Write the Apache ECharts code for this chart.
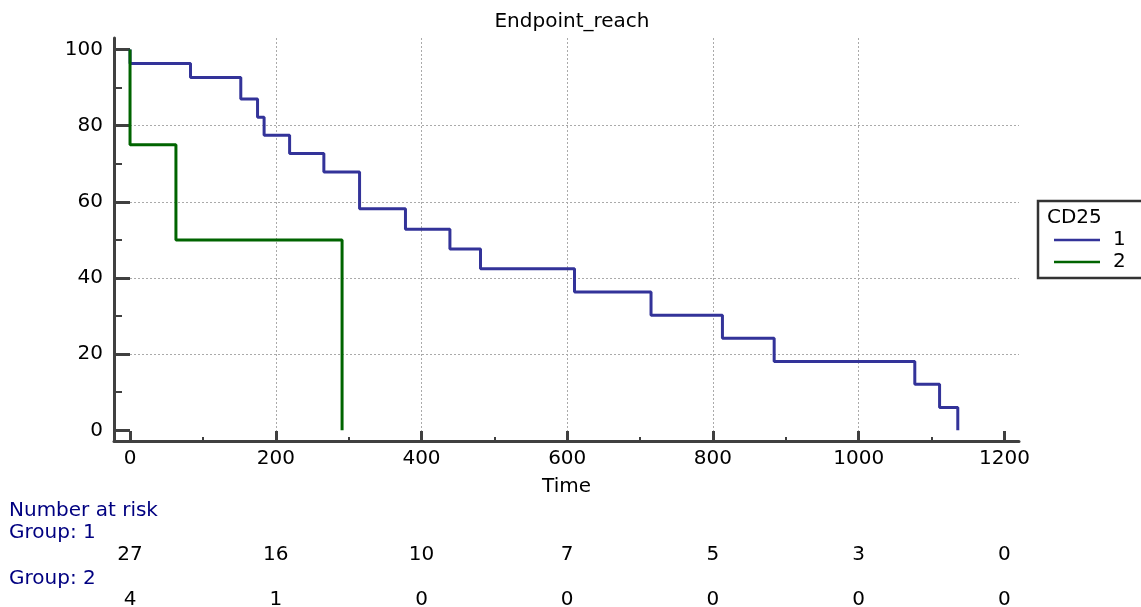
<!DOCTYPE html>
<html>
<head>
<meta charset="utf-8">
<script src="https://cdn.jsdelivr.net/npm/echarts@6/dist/echarts.min.js"></script>
<style>
  html, body { margin: 0; padding: 0; background: #fff; }
  #main { width: 1141px; height: 607px; }
</style>
</head>
<body>
<div id="main"></div>
<script>
var myChart = echarts.init(document.getElementById('main'));

// Kaplan-Meier steps (time, survival %)
var group1Times = [0, 0, 83, 152, 175, 184, 219, 266, 315, 378, 439, 481, 610, 715, 813, 884, 1077, 1111, 1136];
var group1Surv = [100, 96.3, 92.6, 87.0, 82.2, 77.5, 72.7, 67.8, 58.2, 52.8, 47.6, 42.4, 36.3, 30.2, 24.2, 18.1, 12.1, 6.0, 0];
var group2Times = [0, 0, 63, 291];
var group2Surv = [100, 75, 50, 0];

var groupNames = ['1', '2'];
var xTicks = [0, 200, 400, 600, 800, 1000, 1200];
var xMinorTicks = [100, 300, 500, 700, 900, 1100];
var yTicks = [0, 20, 40, 60, 80, 100];
var yMinorTicks = [10, 30, 50, 70, 90];
var risk1 = [27, 16, 10, 7, 5, 3, 0];
var risk2 = [4, 1, 0, 0, 0, 0, 0];

var FONT = 'DejaVu Sans';

function pairs(t, s) {
    var res = [];
    for (var i = 0; i < t.length; i++) res.push([t[i], s[i]]);
    return res;
}

function riskAxis(values, offset) {
    return {
        type: 'value', gridIndex: 0, position: 'bottom', offset: offset,
        min: -22, max: 1220,
        axisLine: { show: false, onZero: false },
        axisTick: { show: false, customValues: xTicks },
        splitLine: { show: false },
        axisLabel: {
            customValues: xTicks, margin: 0, verticalAlign: 'middle',
            fontFamily: FONT, fontSize: 20, color: '#000',
            formatter: function (v) {
                var i = xTicks.indexOf(v);
                return i >= 0 ? String(values[i]) : '';
            }
        }
    };
}

var axisColor = '#404040';
var plain = function (v) { return String(v); };

option = {
    animation: false,
    backgroundColor: '#fff',
    title: [
        { text: 'Endpoint_reach', left: 567, top: 7, textAlign: 'center',
          textStyle: { fontFamily: FONT, fontSize: 20, fontWeight: 'normal', color: '#000' } },
        { text: 'Number at risk', left: 9, top: 501,
          textStyle: { fontFamily: FONT, fontSize: 20, fontWeight: 'normal', color: '#000080' }, padding: 0 },
        { text: 'Group: 1', left: 9, top: 523,
          textStyle: { fontFamily: FONT, fontSize: 20, fontWeight: 'normal', color: '#000080' }, padding: 0 },
        { text: 'Group: 2', left: 9, top: 569,
          textStyle: { fontFamily: FONT, fontSize: 20, fontWeight: 'normal', color: '#000080' }, padding: 0 }
    ],
    graphic: [
        { type: 'rect', shape: { x: 1038, y: 201, width: 130, height: 77 },
          style: { fill: 'none', stroke: '#333', lineWidth: 2.5 } },
        { type: 'text', x: 1047, y: 218,
          style: { text: 'CD25', fontFamily: FONT, fontSize: 20, fill: '#000', verticalAlign: 'middle' } }
    ],
    legend: {
        orient: 'vertical',
        left: 1054, top: 230,
        padding: 0,
        itemGap: 2,
        itemWidth: 46, itemHeight: 2.5,
        icon: 'rect',
        data: groupNames,
        textStyle: { fontFamily: FONT, fontSize: 20, color: '#000', padding: [0, 0, 0, 8] }
    },
    grid: { left: 114, right: 122, top: 38, bottom: 166, containLabel: false, outerBoundsMode: 'none' },
    xAxis: [
        {
            type: 'value', position: 'bottom', min: -22, max: 1220,
            name: 'Time', nameLocation: 'middle', nameGap: 46,
            nameTextStyle: { fontFamily: FONT, fontSize: 20, color: '#000', verticalAlign: 'middle' },
            axisLine: { show: true, onZero: false, lineStyle: { color: axisColor, width: 3 } },
            axisTick: { show: true, inside: true, length: 10, customValues: xTicks,
                        lineStyle: { color: axisColor, width: 3 } },
            axisLabel: { customValues: xTicks, margin: 18, verticalAlign: 'middle', formatter: plain,
                         fontFamily: FONT, fontSize: 20, color: '#000' },
            splitLine: { show: true, showMinLine: false, showMaxLine: false,
                         lineStyle: { color: '#aaa', width: 1, type: [2, 2] } }
        },
        {
            type: 'value', position: 'bottom', min: -22, max: 1220,
            axisLine: { show: false, onZero: false },
            axisTick: { show: true, inside: true, length: 4, customValues: xMinorTicks,
                        lineStyle: { color: axisColor, width: 2 } },
            axisLabel: { show: false },
            splitLine: { show: false }
        },
        riskAxis(risk1, 114),
        riskAxis(risk2, 159)
    ],
    yAxis: [
        {
            type: 'value', position: 'left', min: -2.8, max: 103,
            axisLine: { show: true, onZero: false, lineStyle: { color: axisColor, width: 3 } },
            axisTick: { show: true, inside: true, length: 16, customValues: yTicks,
                        lineStyle: { color: axisColor, width: 3 } },
            axisLabel: { customValues: yTicks, margin: 11, formatter: plain,
                         fontFamily: FONT, fontSize: 20, color: '#000' },
            splitLine: { show: true, showMinLine: false, showMaxLine: false,
                         lineStyle: { color: '#aaa', width: 1, type: [2, 2] } }
        },
        {
            type: 'value', position: 'left', min: -2.8, max: 103,
            axisLine: { show: false, onZero: false },
            axisTick: { show: true, inside: true, length: 8, customValues: yMinorTicks,
                        lineStyle: { color: axisColor, width: 2 } },
            axisLabel: { show: false },
            splitLine: { show: false }
        }
    ],
    series: [
        {
            name: groupNames[0], type: 'line', step: 'end',
            xAxisIndex: 0, yAxisIndex: 0,
            data: pairs(group1Times, group1Surv),
            showSymbol: false, symbol: 'none',
            lineStyle: { color: '#333399', width: 3 },
            itemStyle: { color: '#333399' },
            z: 3
        },
        {
            name: groupNames[1], type: 'line', step: 'end',
            xAxisIndex: 0, yAxisIndex: 0,
            data: pairs(group2Times, group2Surv),
            showSymbol: false, symbol: 'none',
            lineStyle: { color: '#006400', width: 3 },
            itemStyle: { color: '#006400' },
            z: 4
        }
    ]
};

myChart.setOption(option);
</script>
</body>
</html>
